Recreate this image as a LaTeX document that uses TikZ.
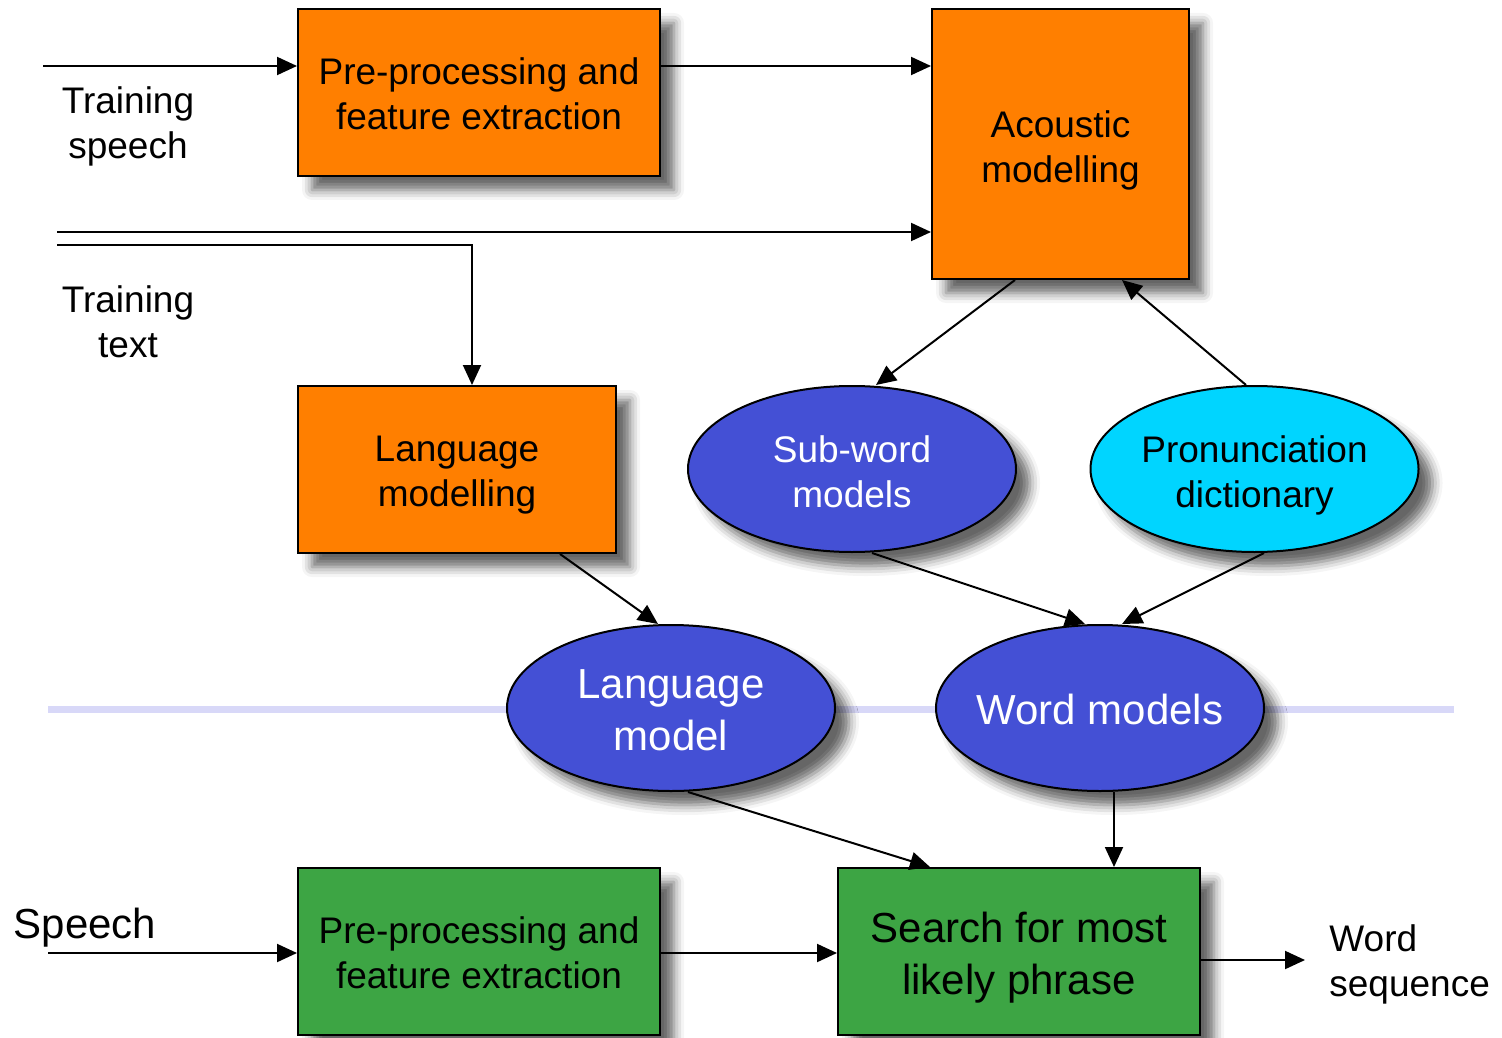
\documentclass[tikz,border=0pt]{standalone}
\usepackage{fontspec}
\setmainfont{Liberation Sans}
\usetikzlibrary{arrows.meta,shadows.blur,shapes.geometric,calc}
\definecolor{orng}{HTML}{FF7F00}
\definecolor{blu}{HTML}{4450D5}
\definecolor{cyn}{HTML}{00D5FF}
\definecolor{grn}{HTML}{3DA544}
\definecolor{lav}{HTML}{D8D8F8}
\newcommand\fsmall{\fontsize{18.5}{22.5}\selectfont}
\newcommand\fbig{\fontsize{21}{26}\selectfont}
\begin{document}
\begin{tikzpicture}[x=0.5pt,y=-0.5pt,
  shd/.style={blur shadow={shadow xshift=7pt,shadow yshift=-7pt,shadow blur radius=5pt,shadow opacity=60}},
  box/.style={draw=black,line width=1pt,shd,inner sep=0pt},
  ell/.style={ellipse,draw=black,line width=1pt,shd,inner sep=0pt,minimum width=164pt,minimum height=83pt},
  lbl/.style={align=center,font=\fsmall,inner sep=0pt},
  arr/.style={line width=1pt,-{Triangle[length=10pt,width=9pt]}},
  sep/.style={lav,line width=3.5pt}]
\useasboundingbox (0,0) rectangle (1502,1037);
\coordinate (ll) at (48,709);
\coordinate (lr) at (1454,709);
\draw[sep] (ll) -- (lr);

\node[box,fill=orng,minimum width=181pt,minimum height=83.5pt] (pre1) at (479,92.5) {};
\node[box,fill=orng,minimum width=128.5pt,minimum height=135pt] (ac) at (1060.5,144) {};
\node[box,fill=orng,minimum width=159pt,minimum height=83.5pt] (lm) at (457,469.5) {};
\node[ell,fill=blu] (sw) at (852,469) {};
\node[ell,fill=cyn] (pd) at (1254.5,469) {};
\node[ell,fill=blu] (lmod) at (671,708) {};
\node[ell,fill=blu] (wm) at (1100,708) {};
\node[box,fill=grn,minimum width=181pt,minimum height=83.5pt] (pre2) at (479,951.5) {};
\node[box,fill=grn,minimum width=181pt,minimum height=83.5pt] (srch) at (1019,951.5) {};

\node[lbl] (pre1t) at ([yshift=-0.5pt]pre1.center) {Pre-processing and\\feature extraction};
\node[lbl] (act) at ([yshift=-3pt]ac.center) {Acoustic\\modelling};
\node[lbl] (lmt) at ([yshift=-3pt]lm.center) {Language\\modelling};
\node[lbl,text=white] (swt) at ([yshift=-1.5pt]sw.center) {Sub-word\\models};
\node[lbl] (pdt) at ([yshift=-3pt]pd.center) {Pronunciation\\dictionary};
\node[lbl,text=white,font=\fbig] (lmodt) at ([yshift=-1pt]lmod.center) {Language\\model};
\node[lbl,text=white,font=\fbig] (wmt) at ([yshift=-0.5pt]wm.center) {Word models};
\node[lbl] (pre2t) at ([yshift=-0.5pt]pre2.center) {Pre-processing and\\feature extraction};
\node[lbl,font=\fbig] (srcht) at ([yshift=-3pt]srch.center) {Search for most\\likely phrase};

\node[lbl] (tsl) at (128,126) {Training\\speech};
\node[lbl] (ttl) at (128,322) {Training\\text};
\node[lbl,font=\fbig] (spl) at (85,928) {Speech};
\node[lbl,align=left,anchor=west] (wsl) at (1329,964) {Word\\sequence};

\coordinate (ts) at (43,66);
\coordinate (tt1) at (57,232);
\coordinate (tt2) at (57,245);
\coordinate (sp) at (48,953);
\coordinate (out) at (1305,960);

\draw[arr] (ts) -- (pre1.west |- ts);
\draw[arr] (pre1.east |- ts) -- (ac.west |- ts);
\draw[arr] (tt1) -- (ac.west |- tt1);
\draw[arr] (tt2) -| ([xshift=7.5pt]lm.north);
\draw[arr] ([xshift=-22.75pt]ac.south) -- ([xshift=12pt]sw.north);
\draw[arr] ([xshift=-4.25pt]pd.north) -- ([xshift=30.75pt]ac.south);
\draw[arr] ([xshift=51.5pt]lm.south) -- ([xshift=-6.5pt]lmod.north);
\draw[arr] ([xshift=10pt]sw.south) -- ([xshift=-7.5pt]wm.north);
\draw[arr] ([xshift=4.75pt]pd.south) -- ([xshift=11pt]wm.north);
\draw[arr] ([xshift=8.5pt]lmod.south) -- ([xshift=-44.5pt]srch.north);
\draw[arr] ([xshift=7pt]wm.south) -- ([xshift=47.5pt]srch.north);
\draw[arr] (sp) -- (pre2.west |- sp);
\draw[arr] (pre2.east |- sp) -- (srch.west |- sp);
\draw[arr] (srch.east |- out) -- (out);
\end{tikzpicture}
\end{document}
